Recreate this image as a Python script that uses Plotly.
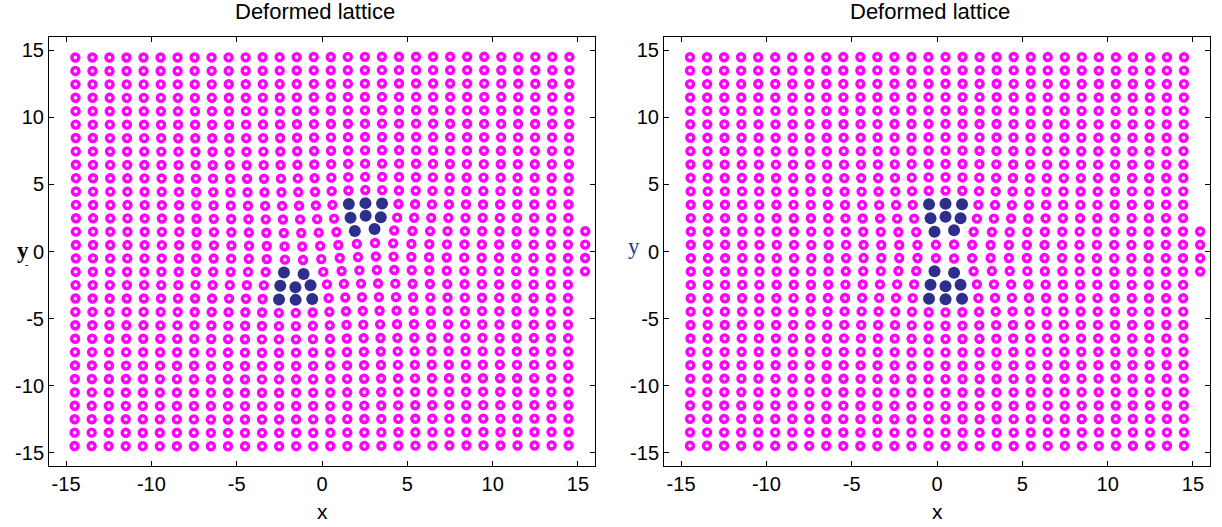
import numpy as np
import plotly.graph_objects as go

# ---------------- data ----------------
# undeformed lattice sites (same for x and y)
site_x = [-14.5, -13.5, -12.5, -11.5, -10.5, -9.5, -8.5, -7.5, -6.5, -5.5,
          -4.5, -3.5, -2.5, -1.5, -0.5, 0.5, 1.5, 2.5, 3.5, 4.5,
          5.5, 6.5, 7.5, 8.5, 9.5, 10.5, 11.5, 12.5, 13.5, 14.5]
site_y = [-14.5, -13.5, -12.5, -11.5, -10.5, -9.5, -8.5, -7.5, -6.5, -5.5,
          -4.5, -3.5, -2.5, -1.5, -0.5, 0.5, 1.5, 2.5, 3.5, 4.5,
          5.5, 6.5, 7.5, 8.5, 9.5, 10.5, 11.5, 12.5, 13.5, 14.5]

# dislocation dipole (core positions and Burgers sign)
left_core_x = [2.5, -1.5]
left_core_y = [2.0, -2.0]
left_burgers = [1, -1]
right_core_x = [0.5, 0.5]
right_core_y = [2.0, -2.0]
right_burgers = [1, -1]
poisson = 0.3

# highlighted core atoms (reference sites)
left_hl_x = [1.5, 2.5, 3.5, 1.5, 2.5, 3.5, 1.5, 2.5,
             -2.5, -1.5, -2.5, -1.5, -0.5, -2.5, -1.5, -0.5]
left_hl_y = [3.5, 3.5, 3.5, 2.5, 2.5, 2.5, 1.5, 1.5,
             -1.5, -1.5, -2.5, -2.5, -2.5, -3.5, -3.5, -3.5]
right_hl_x = [-0.5, 0.5, 1.5, -0.5, 0.5, 1.5, -0.5, 0.5,
              -0.5, 0.5, -0.5, 0.5, 1.5, -0.5, 0.5, 1.5]
right_hl_y = [3.5, 3.5, 3.5, 2.5, 2.5, 2.5, 1.5, 1.5,
              -1.5, -1.5, -2.5, -2.5, -2.5, -3.5, -3.5, -3.5]

tick_vals = [-15, -10, -5, 0, 5, 10, 15]
tick_text = ["-15", "-10", "-5", "0", "5", "10", "15"]

RING = "#ff00ff"
CORE = "#2e2e8c"


def deform(px, py, cx, cy, bs, nu):
    px = np.asarray(px, float)
    py = np.asarray(py, float)
    ux = np.zeros_like(px)
    uy = np.zeros_like(py)
    for x0, y0, b in zip(cx, cy, bs):
        dx = px - x0
        dy = py - y0
        r2 = dx * dx + dy * dy
        th = np.arctan2(dy, -dx)
        ux += -b * th / (2 * np.pi) + b / (2 * np.pi) * dx * dy / (2 * (1 - nu) * r2)
        uy += -b / (2 * np.pi) * ((1 - 2 * nu) / (4 * (1 - nu)) * np.log(r2)
                                   + (dx * dx - dy * dy) / (4 * (1 - nu) * r2))
    return px + ux, py + uy


GX, GY = np.meshgrid(site_x, site_y)
GX = GX.ravel()
GY = GY.ravel()

fig = go.Figure()

panels = [
    (left_core_x, left_core_y, left_burgers, left_hl_x, left_hl_y, "x", "y"),
    (right_core_x, right_core_y, right_burgers, right_hl_x, right_hl_y, "x2", "y2"),
]
for cx, cy, bs, hx, hy, xa, ya in panels:
    X, Y = deform(GX, GY, cx, cy, bs, poisson)
    fig.add_trace(go.Scatter(
        x=X, y=Y, mode="markers", xaxis=xa, yaxis=ya, showlegend=False,
        hoverinfo="skip",
        marker=dict(symbol="circle-open", size=7, color=RING,
                    line=dict(width=3.4, color=RING))))
    HX, HY = deform(hx, hy, cx, cy, bs, poisson)
    fig.add_trace(go.Scatter(
        x=HX, y=HY, mode="markers", xaxis=xa, yaxis=ya, showlegend=False,
        hoverinfo="skip",
        marker=dict(symbol="circle", size=12, color=CORE, line=dict(width=0))))

W, H = 1222, 527


def fx(px):
    return px / W


def fy(py):
    return 1 - py / H


ax_common = dict(range=[-16, 16], tickmode="array", tickvals=tick_vals, ticktext=tick_text,
                 ticks="inside", ticklen=5, tickcolor="black", tickwidth=1,
                 showline=True, linecolor="black", linewidth=1, mirror="ticks",
                 showgrid=False, zeroline=False,
                 tickfont=dict(family="Liberation Sans, Arial", size=20, color="black"))

ydom = [fy(466), fy(37)]
fig.update_layout(
    width=W, height=H, margin=dict(l=0, r=0, t=0, b=0),
    paper_bgcolor="white", plot_bgcolor="white",
    xaxis=dict(domain=[fx(49), fx(595)], anchor="y", **ax_common),
    yaxis=dict(domain=ydom, anchor="x", **ax_common),
    xaxis2=dict(domain=[fx(664), fx(1210)], anchor="y2", **ax_common),
    yaxis2=dict(domain=ydom, anchor="x2", **ax_common),
)


def ann(text, xpx, ypx, size, family="Liberation Sans, Arial", color="black"):
    fig.add_annotation(text=text, x=fx(xpx), y=fy(ypx), xref="paper", yref="paper",
                       showarrow=False, xanchor="center", yanchor="middle",
                       font=dict(family=family, size=size, color=color))


ann("Deformed lattice", 315, 11, 22)
ann("Deformed lattice", 930, 11, 22)
ann("x", 322, 511, 21)
ann("x", 937, 511, 21)
ann("<b>y</b>", 23, 250, 23, family="Liberation Serif, Times New Roman")
ann("-", 26, 264, 10)
ann("y", 634, 246, 23, family="Liberation Serif, Times New Roman", color="#333399")

fig.write_html("out.html", config={"displayModeBar": False},
               post_script="document.body.style.margin='0';")
